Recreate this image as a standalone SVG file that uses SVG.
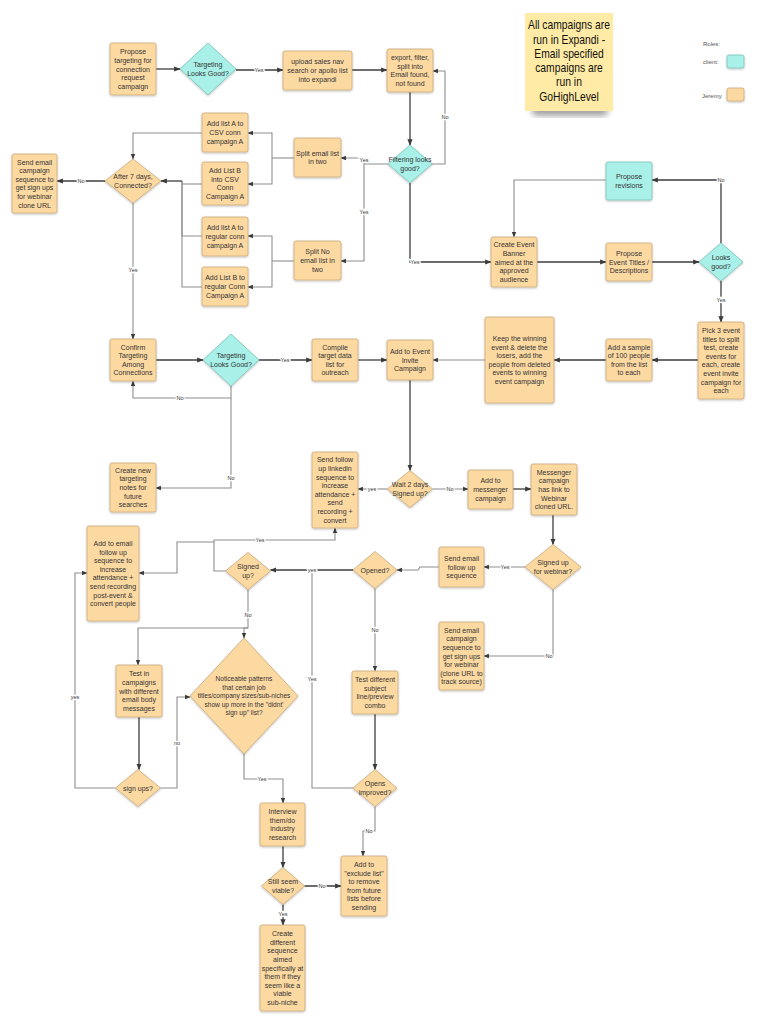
<svg xmlns="http://www.w3.org/2000/svg" width="768" height="1024" viewBox="0 0 768 1024">
<defs>
<marker id="ar" viewBox="0 0 10 10" refX="9" refY="5" markerWidth="5" markerHeight="5" orient="auto-start-reverse"><path d="M0,1 L10,5 L0,9 z" fill="#3a3a3a"/></marker>
<filter id="sh" x="-20%" y="-20%" width="140%" height="140%"><feDropShadow dx="0" dy="1" stdDeviation="0.8" flood-color="#000" flood-opacity="0.25"/></filter>
<filter id="blur"><feGaussianBlur stdDeviation="3"/></filter>
</defs>
<style>
.o{fill:#FDD9A2;stroke:#C9AA7A;stroke-width:0.8;filter:url(#sh)}
.c{fill:#A8F0E8;stroke:#78C2B8;stroke-width:0.8;filter:url(#sh)}
text{font-family:"Liberation Sans",Arial,sans-serif;fill:#333}
.t{font-size:7px;text-anchor:middle}
.l{fill:none;stroke:#3d3d3d;stroke-width:1.3}
.g{fill:none;stroke:#8e8e8e;stroke-width:1.1}
.a{marker-end:url(#ar)}
.lb{font-size:5.5px;text-anchor:middle;stroke:#fff;stroke-width:2.5;paint-order:stroke;fill:#333}
.n{font-size:12px;text-anchor:middle;fill:#111}
.lg{font-size:6px;fill:#555}
</style>
<rect width="768" height="1024" fill="#fff"/>

<!-- sticky note -->
<g id="note">
<rect x="532" y="104" width="76" height="12" rx="5" fill="#555" opacity="0.55" filter="url(#blur)"/>
<rect x="525" y="13" width="88" height="98" fill="#FFEBA5"/>
<text class="n" transform="translate(569,0) scale(0.86,1)" x="0" y="29.3">All campaigns are<tspan x="0" dy="14.3">run in Expandi -</tspan><tspan x="0" dy="14.3">Email specified</tspan><tspan x="0" dy="14.3">campaigns are</tspan><tspan x="0" dy="14.3">run in</tspan><tspan x="0" dy="14.3">GoHighLevel</tspan></text>
</g>

<!-- legend -->
<g id="legend">
<text class="lg" x="703" y="46">Roles:</text>
<text class="lg" x="703" y="64">client:</text>
<rect x="727" y="55" width="17" height="13" rx="2" class="c"/>
<text class="lg" x="702" y="98">Jeremy</text>
<rect x="727" y="88" width="17" height="13" rx="2" class="o"/>
</g>

<!-- connectors -->
<g id="connectors">
<path class="l a" d="M156,69 H180"/>
<path class="l a" d="M236,70 H283"/>
<path class="l a" d="M352,70 H387"/>
<path class="l a" d="M410,92 V145"/>
<path class="g a" d="M432,164 H445 V71 H433"/>
<path class="g a" d="M388,164 H364 V158 H341"/>
<path class="g a" d="M364,164 V261 H341"/>
<path class="g" d="M294,158 H272"/>
<path class="g a" d="M272,158 V133 H248"/>
<path class="g a" d="M272,158 V184 H248"/>
<path class="g" d="M294,261 H272"/>
<path class="g a" d="M272,261 V236 H248"/>
<path class="g a" d="M272,261 V287 H248"/>
<path class="g a" d="M202,133 H133 V159"/>
<path class="g" d="M202,184 H182"/>
<path class="g" d="M202,236 H182 V181"/>
<path class="g" d="M202,287 H182 V181"/>
<path class="l a" d="M182,181 H161"/>
<path class="l a" d="M105,181 H57"/>
<path class="g a" d="M133,203 V339"/>
<path class="l a" d="M156,360 H203"/>
<path class="l a" d="M259,360 H312"/>
<path class="g a" d="M231,386 V398 H133 V381"/>
<path class="g a" d="M231,398 V488 H156"/>
<path class="l a" d="M358,360 H387"/>
<path class="g a" d="M485,360 H433"/>
<path class="l a" d="M606,360 H554"/>
<path class="l a" d="M698,360 H652"/>
<path class="l a" d="M410,183 V262 H491"/>
<path class="l a" d="M537,262 H606"/>
<path class="l a" d="M652,262 H699"/>
<path class="l a" d="M721,243 V180 H652"/>
<path class="g a" d="M606,180 H514 V237"/>
<path class="l a" d="M721,281 V322"/>
<path class="l a" d="M410,380 V470.5"/>
<path class="g a" d="M387.5,489 H358"/>
<path class="g a" d="M432.5,489 H468"/>
<path class="l a" d="M513,489 H531"/>
<path class="l a" d="M553,515 V544.5"/>
<path class="g a" d="M525,567 H484"/>
<path class="g a" d="M553,589.5 V656 H484"/>
<path class="g a" d="M439,567 H420 L418,570 H397"/>
<path class="l a" d="M353,570 H270.5"/>
<path class="g" d="M353,788 H312 V570"/>
<path class="g a" d="M375,588.5 V671"/>
<path class="l a" d="M375,714 V769.5"/>
<path class="g a" d="M375,806.5 V831 H363 V856"/>
<path class="g a" d="M225.5,571 H214 V540 H335 V528"/>
<path class="g a" d="M214,542 H177 V573 H139"/>
<path class="g a" d="M248,589.5 V628 H138 V665"/>
<path class="g a" d="M248,628 H244 V638"/>
<path class="l a" d="M139,717 V769.5"/>
<path class="g a" d="M115.5,788 H75 V573 H87"/>
<path class="g a" d="M160.5,788 H177 V697 H190"/>
<path class="g a" d="M244,754 V779 H283 V803"/>
<path class="l a" d="M283,846 V867.5"/>
<path class="l a" d="M304.5,886 H341"/>
<path class="l a" d="M283,904.5 V925"/>
<text class="lb" x="259" y="72">Yes</text>
<text class="lb" x="445" y="119">No</text>
<text class="lb" x="364" y="162">Yes</text>
<text class="lb" x="364" y="214">Yes</text>
<text class="lb" x="81" y="183">No</text>
<text class="lb" x="133" y="272">Yes</text>
<text class="lb" x="285" y="362">Yes</text>
<text class="lb" x="180" y="400">No</text>
<text class="lb" x="231" y="480">No</text>
<text class="lb" x="415" y="264">Yes</text>
<text class="lb" x="721" y="182">No</text>
<text class="lb" x="721" y="302">Yes</text>
<text class="lb" x="372" y="491">yes</text>
<text class="lb" x="450" y="491">No</text>
<text class="lb" x="505" y="569">Yes</text>
<text class="lb" x="549" y="658">No</text>
<text class="lb" x="312" y="572">yes</text>
<text class="lb" x="312" y="681">Yes</text>
<text class="lb" x="375" y="632">No</text>
<text class="lb" x="369" y="833">No</text>
<text class="lb" x="260" y="542">Yes</text>
<text class="lb" x="248" y="617">No</text>
<text class="lb" x="75" y="699">yes</text>
<text class="lb" x="177" y="745">no</text>
<text class="lb" x="262" y="781">Yes</text>
<text class="lb" x="322" y="888">No</text>
<text class="lb" x="283" y="916">Yes</text>
</g>

<!-- nodes -->
<g id="n1"><rect class="o" x="110" y="43" width="46" height="52" rx="2"/><text class="t" x="133" y="54.3">Propose<tspan x="133" dy="8.6">targeting for</tspan><tspan x="133" dy="8.6">connection</tspan><tspan x="133" dy="8.6">request</tspan><tspan x="133" dy="8.6">campaign</tspan></text></g>
<g id="n2"><polygon class="c" points="180,69 208,43 236,69 208,95"/><text class="t" x="208" y="67.2">Targeting<tspan x="208" dy="8.6">Looks Good?</tspan></text></g>
<g id="n4"><rect class="o" x="283" y="51" width="69" height="39" rx="2"/><text class="t" x="317.5" y="64.4">upload sales nav<tspan x="317.5" dy="8.6">search or apollo list</tspan><tspan x="317.5" dy="8.6">into expandi</tspan></text></g>
<g id="n5"><rect class="o" x="387" y="49" width="46" height="43" rx="2"/><text class="t" x="410" y="60.1">export, filter,<tspan x="410" dy="8.6">split into</tspan><tspan x="410" dy="8.6">Email found,</tspan><tspan x="410" dy="8.6">not found</tspan></text></g>
<g id="n6"><polygon class="c" points="388,164 410,145 432,164 410,183"/><text class="t" x="410" y="162.2">Filtering looks<tspan x="410" dy="8.6">good?</tspan></text></g>
<g id="n7"><rect class="o" x="294" y="138" width="47" height="39" rx="2"/><text class="t" x="317.5" y="155.7">Split email list<tspan x="317.5" dy="8.6">in two</tspan></text></g>
<g id="n8"><rect class="o" x="294" y="241" width="47" height="39" rx="2"/><text class="t" x="317.5" y="254.4">Split No<tspan x="317.5" dy="8.6">email list in</tspan><tspan x="317.5" dy="8.6">two</tspan></text></g>
<g id="n10"><rect class="o" x="202" y="113" width="46" height="39" rx="2"/><text class="t" x="225" y="126.4">Add list A to<tspan x="225" dy="8.6">CSV conn</tspan><tspan x="225" dy="8.6">campaign A</tspan></text></g>
<g id="n11"><rect class="o" x="202" y="162" width="46" height="43" rx="2"/><text class="t" x="225" y="173.1">Add List B<tspan x="225" dy="8.6">into CSV</tspan><tspan x="225" dy="8.6">Conn</tspan><tspan x="225" dy="8.6">Campaign A</tspan></text></g>
<g id="n12"><rect class="o" x="202" y="217" width="46" height="39" rx="2"/><text class="t" x="225" y="230.4">Add list A to<tspan x="225" dy="8.6">regular conn</tspan><tspan x="225" dy="8.6">campaign A</tspan></text></g>
<g id="n13"><rect class="o" x="202" y="267" width="46" height="39" rx="2"/><text class="t" x="225" y="280.4">Add List B to<tspan x="225" dy="8.6">regular Conn</tspan><tspan x="225" dy="8.6">Campaign A</tspan></text></g>
<g id="n14"><polygon class="o" points="105,181 133,159 161,181 133,203"/><text class="t" x="133" y="179.2">After 7 days,<tspan x="133" dy="8.6">Connected?</tspan></text></g>
<g id="n15"><rect class="o" x="12" y="154" width="45" height="59" rx="2"/><text class="t" x="34.5" y="164.5">Send email<tspan x="34.5" dy="8.6">campaign</tspan><tspan x="34.5" dy="8.6">sequence to</tspan><tspan x="34.5" dy="8.6">get sign ups</tspan><tspan x="34.5" dy="8.6">for webinar</tspan><tspan x="34.5" dy="8.6">clone URL</tspan></text></g>
<g id="n16"><rect class="o" x="110" y="339" width="46" height="42" rx="2"/><text class="t" x="133" y="349.6">Confirm<tspan x="133" dy="8.6">Targeting</tspan><tspan x="133" dy="8.6">Among</tspan><tspan x="133" dy="8.6">Connections</tspan></text></g>
<g id="n17"><polygon class="c" points="203,360 231,334 259,360 231,386"/><text class="t" x="231" y="358.2">Targeting<tspan x="231" dy="8.6">Looks Good?</tspan></text></g>
<g id="n18"><rect class="o" x="312" y="339" width="46" height="42" rx="2"/><text class="t" x="335" y="349.6">Compile<tspan x="335" dy="8.6">target data</tspan><tspan x="335" dy="8.6">list for</tspan><tspan x="335" dy="8.6">outreach</tspan></text></g>
<g id="n19"><rect class="o" x="387" y="340" width="46" height="40" rx="2"/><text class="t" x="410" y="353.9">Add to Event<tspan x="410" dy="8.6">Invite</tspan><tspan x="410" dy="8.6">Campaign</tspan></text></g>
<g id="n20"><rect class="o" x="110" y="463" width="46" height="49" rx="2"/><text class="t" x="133" y="472.8">Create new<tspan x="133" dy="8.6">targeting</tspan><tspan x="133" dy="8.6">notes for</tspan><tspan x="133" dy="8.6">future</tspan><tspan x="133" dy="8.6">searches</tspan></text></g>
<g id="n21"><rect class="o" x="485" y="317" width="69" height="86" rx="2"/><text class="t" x="519.5" y="341">Keep the winning<tspan x="519.5" dy="8.6">event &amp; delete the</tspan><tspan x="519.5" dy="8.6">losers, add the</tspan><tspan x="519.5" dy="8.6">people from deleted</tspan><tspan x="519.5" dy="8.6">events to winning</tspan><tspan x="519.5" dy="8.6">event campaign</tspan></text></g>
<g id="n22"><rect class="o" x="606" y="339" width="46" height="42" rx="2"/><text class="t" x="629" y="349.6">Add a sample<tspan x="629" dy="8.6">of 100 people</tspan><tspan x="629" dy="8.6">from the list</tspan><tspan x="629" dy="8.6">to each</tspan></text></g>
<g id="n23"><rect class="o" x="698" y="322" width="46" height="77" rx="2"/><text class="t" x="721" y="332.9">Pick 3 event<tspan x="721" dy="8.6">titles to split</tspan><tspan x="721" dy="8.6">test, create</tspan><tspan x="721" dy="8.6">events for</tspan><tspan x="721" dy="8.6">each, create</tspan><tspan x="721" dy="8.6">event invite</tspan><tspan x="721" dy="8.6">campaign for</tspan><tspan x="721" dy="8.6">each</tspan></text></g>
<g id="n24"><rect class="c" x="606" y="162" width="46" height="38" rx="2"/><text class="t" x="629" y="179.2">Propose<tspan x="629" dy="8.6">revisions</tspan></text></g>
<g id="n25"><rect class="o" x="491" y="237" width="46" height="50" rx="2"/><text class="t" x="514" y="247.3">Create Event<tspan x="514" dy="8.6">Banner</tspan><tspan x="514" dy="8.6">aimed at the</tspan><tspan x="514" dy="8.6">approved</tspan><tspan x="514" dy="8.6">audience</tspan></text></g>
<g id="n26"><rect class="o" x="606" y="243" width="46" height="38" rx="2"/><text class="t" x="629" y="255.9">Propose<tspan x="629" dy="8.6">Event Titles /</tspan><tspan x="629" dy="8.6">Descriptions</tspan></text></g>
<g id="n27"><polygon class="c" points="699,262 721,243 743,262 721,281"/><text class="t" x="721" y="260.2">Looks<tspan x="721" dy="8.6">good?</tspan></text></g>
<g id="n28"><polygon class="o" points="387.5,489 410,470.5 432.5,489 410,507.5"/><text class="t" x="410" y="487.2">Wait 2 days<tspan x="410" dy="8.6">Signed up?</tspan></text></g>
<g id="n29"><rect class="o" x="312" y="452" width="46" height="76" rx="2"/><text class="t" x="335" y="462.4">Send follow<tspan x="335" dy="8.6">up linkedin</tspan><tspan x="335" dy="8.6">sequence to</tspan><tspan x="335" dy="8.6">increase</tspan><tspan x="335" dy="8.6">attendance +</tspan><tspan x="335" dy="8.6">send</tspan><tspan x="335" dy="8.6">recording +</tspan><tspan x="335" dy="8.6">convert</tspan></text></g>
<g id="n30"><rect class="o" x="468" y="470" width="45" height="39" rx="2"/><text class="t" x="490.5" y="483.4">Add to<tspan x="490.5" dy="8.6">messenger</tspan><tspan x="490.5" dy="8.6">campaign</tspan></text></g>
<g id="n31"><rect class="o" x="531" y="464" width="46" height="51" rx="2"/><text class="t" x="554" y="474.8">Messenger<tspan x="554" dy="8.6">campaign</tspan><tspan x="554" dy="8.6">has link to</tspan><tspan x="554" dy="8.6">Webinar</tspan><tspan x="554" dy="8.6">cloned URL.</tspan></text></g>
<g id="n32"><polygon class="o" points="525,567 553,544.5 581,567 553,589.5"/><text class="t" x="553" y="565.2">Signed up<tspan x="553" dy="8.6">for webinar?</tspan></text></g>
<g id="n33"><rect class="o" x="439" y="547" width="45" height="40" rx="2"/><text class="t" x="461.5" y="560.9">Send email<tspan x="461.5" dy="8.6">follow up</tspan><tspan x="461.5" dy="8.6">sequence</tspan></text></g>
<g id="n34"><rect class="o" x="439" y="622" width="45" height="68" rx="2"/><text class="t" x="461.5" y="632.7">Send email<tspan x="461.5" dy="8.6">campaign</tspan><tspan x="461.5" dy="8.6">sequence to</tspan><tspan x="461.5" dy="8.6">get sign ups</tspan><tspan x="461.5" dy="8.6">for webinar</tspan><tspan x="461.5" dy="8.6">(clone URL to</tspan><tspan x="461.5" dy="8.6">track source)</tspan></text></g>
<g id="n35"><polygon class="o" points="353,570 375,551.5 397,570 375,588.5"/><text class="t" x="375" y="572.5">Opened?</text></g>
<g id="n36"><rect class="o" x="352" y="671" width="46" height="43" rx="2"/><text class="t" x="375" y="682.1">Test different<tspan x="375" dy="8.6">subject</tspan><tspan x="375" dy="8.6">line/preview</tspan><tspan x="375" dy="8.6">combo</tspan></text></g>
<g id="n37"><polygon class="o" points="353,788 375,769.5 397,788 375,806.5"/><text class="t" x="375" y="786.2">Opens<tspan x="375" dy="8.6">improved?</tspan></text></g>
<g id="n38"><rect class="o" x="341" y="856" width="46" height="60" rx="2"/><text class="t" x="364" y="867">Add to<tspan x="364" dy="8.6">"exclude list"</tspan><tspan x="364" dy="8.6">to remove</tspan><tspan x="364" dy="8.6">from future</tspan><tspan x="364" dy="8.6">lists before</tspan><tspan x="364" dy="8.6">sending</tspan></text></g>
<g id="n39"><polygon class="o" points="225.5,571 248,552.5 270.5,571 248,589.5"/><text class="t" x="248" y="569.2">Signed<tspan x="248" dy="8.6">up?</tspan></text></g>
<g id="n40"><rect class="o" x="87" y="526" width="52" height="95" rx="2"/><text class="t" x="113" y="545.9">Add to email<tspan x="113" dy="8.6">follow up</tspan><tspan x="113" dy="8.6">sequence to</tspan><tspan x="113" dy="8.6">increase</tspan><tspan x="113" dy="8.6">attendance +</tspan><tspan x="113" dy="8.6">send recording</tspan><tspan x="113" dy="8.6">post-event &amp;</tspan><tspan x="113" dy="8.6">convert people</tspan></text></g>
<g id="n41"><rect class="o" x="116" y="665" width="46" height="52" rx="2"/><text class="t" x="139" y="676.3">Test in<tspan x="139" dy="8.6">campaigns</tspan><tspan x="139" dy="8.6">with different</tspan><tspan x="139" dy="8.6">email body</tspan><tspan x="139" dy="8.6">messages</tspan></text></g>
<g id="n42"><polygon class="o" points="190,696 244,638 298,696 244,754"/><text class="t" style="font-size:6.6px" x="244" y="681.3">Noticeable patterns<tspan x="244" dy="8.5">that certain job</tspan><tspan x="244" dy="8.5">titles/company sizes/sub-niches</tspan><tspan x="244" dy="8.5">show up more in the "didnt'</tspan><tspan x="244" dy="8.5">sign up" list?</tspan></text></g>
<g id="n43"><polygon class="o" points="115.5,788 138,769.5 160.5,788 138,806.5"/><text class="t" x="138" y="790.5">sign ups?</text></g>
<g id="n44"><rect class="o" x="260" y="803" width="45" height="43" rx="2"/><text class="t" x="282.5" y="814.1">Interview<tspan x="282.5" dy="8.6">them/do</tspan><tspan x="282.5" dy="8.6">industry</tspan><tspan x="282.5" dy="8.6">research</tspan></text></g>
<g id="n45"><polygon class="o" points="261.5,886 283,867.5 304.5,886 283,904.5"/><text class="t" x="283" y="884.2">Still seem<tspan x="283" dy="8.6">viable?</tspan></text></g>
<g id="n46"><rect class="o" x="260" y="925" width="45" height="86" rx="2"/><text class="t" x="282.5" y="936.1">Create<tspan x="282.5" dy="8.6">different</tspan><tspan x="282.5" dy="8.6">sequence</tspan><tspan x="282.5" dy="8.6">aimed</tspan><tspan x="282.5" dy="8.6">specifically at</tspan><tspan x="282.5" dy="8.6">them if they</tspan><tspan x="282.5" dy="8.6">seem like a</tspan><tspan x="282.5" dy="8.6">viable</tspan><tspan x="282.5" dy="8.6">sub-niche</tspan></text></g>
</svg>
